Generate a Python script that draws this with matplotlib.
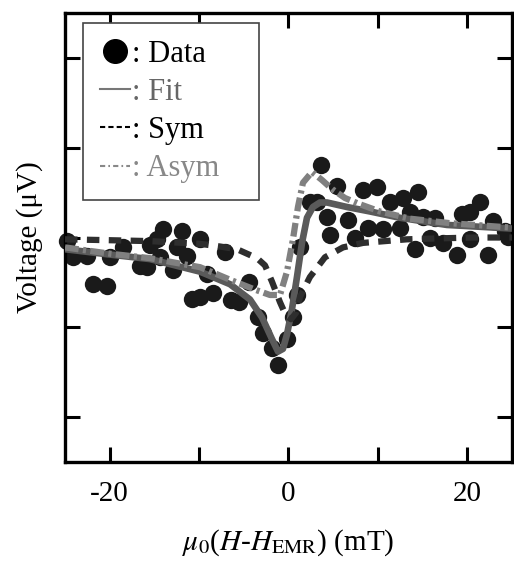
import matplotlib
matplotlib.use("Agg")
import matplotlib.pyplot as plt
from matplotlib.lines import Line2D
import numpy as np

plt.rcParams['font.family'] = ['Liberation Serif', 'DejaVu Sans']
plt.rcParams['mathtext.fontset'] = 'stix'

# measured points (field in mT, voltage in arbitrary units)
data_x = [-24.78, -24.11, -22.54, -21.87, -20.30, -19.97, -18.51, -16.61, -15.83, -15.49,
          -14.71, -14.04, -14.37, -12.92, -11.91, -11.35, -12.47, -9.90, -9.12, -10.79,
          -9.90, -8.45, -7.10, -6.43, -5.54, -4.42, -3.41, -2.85, -1.85, -1.17,
          -0.17, 0.50, 0.95, 1.29, 2.40, 3.19, 3.64, 4.64, 5.43, 4.31,
          6.66, 7.44, 8.33, 9.90, 8.89, 10.57, 11.35, 12.81, 14.49, 12.47,
          13.59, 15.04, 16.39, 14.15, 15.83, 17.28, 18.85, 19.41, 20.30, 20.30,
          21.42, 22.32, 22.87, 24.22, 24.55]
data_y = [-0.04, -0.22, -0.21, -0.52, -0.54, -0.22, -0.10, -0.32, -0.33, -0.08,
          -0.02, 0.09, -0.22, -0.36, 0.07, -0.21, -0.11, -0.02, -0.41, -0.69,
          -0.66, -0.62, -0.16, -0.70, -0.72, -0.49, -0.88, -1.06, -1.23, -1.42,
          -1.13, -0.88, -0.64, -0.10, 0.39, 0.39, 0.81, 0.03, 0.57, 0.23,
          0.19, 0.00, 0.53, 0.56, 0.11, 0.09, 0.40, 0.44, 0.51, 0.11,
          0.28, 0.23, 0.22, -0.13, 0.00, -0.06, -0.20, 0.26, 0.28, -0.02,
          0.40, -0.20, 0.18, 0.07, 0.01]

# fit curves
fit_x = [-25.0, -19.97, -15.49, -9.90, -6.54, -4.31, -2.96, -1.85, -1.17, -0.62,
         -0.17, 0.39, 0.95, 1.51, 2.07, 2.74, 3.52, 4.31, 6.54, 9.12, 12.47, 17.73, 25.0]
fit_y = [-0.13, -0.19, -0.24, -0.38, -0.52, -0.69, -0.89, -1.13, -1.27, -1.24,
         -1.08, -0.80, -0.44, -0.06, 0.22, 0.34, 0.39, 0.39, 0.34, 0.29, 0.22, 0.14, 0.10]

sym_x = [-25.0, -19.97, -15.49, -9.90, -7.66, -5.76, -3.52, -2.63, -1.85, -0.95,
         -0.28, 0.28, 0.84, 1.29, 2.40, 4.08, 6.10, 8.33, 10.79, 13.26, 16.61, 20.64, 25.0]
sym_y = [-0.02, -0.03, -0.04, -0.07, -0.10, -0.13, -0.23, -0.31, -0.49, -0.72,
         -0.87, -0.91, -0.84, -0.66, -0.44, -0.22, -0.11, -0.06, -0.04, -0.02, -0.01, 0.00, 0.00]

asym_x = [-25.0, -19.97, -15.49, -9.90, -6.54, -3.75, -2.07, -0.95, -0.17, 0.50,
          1.06, 1.62, 2.63, 3.75, 4.87, 6.32, 8.00, 10.23, 13.59, 18.06, 25.0]
asym_y = [-0.11, -0.18, -0.23, -0.33, -0.47, -0.58, -0.64, -0.64, -0.38, -0.02,
          0.34, 0.61, 0.73, 0.64, 0.54, 0.44, 0.37, 0.29, 0.21, 0.16, 0.11]

x_ticks = [-20, -10, 0, 10, 20]
x_ticklabels = ['-20', '', '0', '', '20']
y_ticks = [-2, -1, 0, 1, 2]

fig = plt.figure(figsize=(5.14, 5.66), dpi=100)
ax = fig.add_axes([0.1265, 0.1837, 0.8695, 0.7933])

ax.plot(data_x, data_y, 'o', color='#1a1a1a', markersize=12.5, markeredgewidth=0,
        clip_on=False, zorder=2)
ax.plot(fit_x, fit_y, '-', color='#5a5a5a', lw=4.8, solid_capstyle='butt', zorder=3)
ax.plot(sym_x, sym_y, color='#2e2e2e', lw=4.5, dashes=(2.0, 1.5), zorder=4)
ax.plot(asym_x, asym_y, color='#808080', lw=4.5, dashes=(2.2, 0.7, 0.5, 0.7), zorder=5)

ax.set_xlim(-25, 25)
ax.set_ylim(-2.5, 2.5)
ax.set_xticks(x_ticks)
ax.set_xticklabels(x_ticklabels)
ax.set_yticks(y_ticks)
ax.set_yticklabels([])
ax.tick_params(direction='in', length=11, width=2.2, top=True, right=True,
               labelsize=21, pad=14)
for s in ax.spines.values():
    s.set_linewidth(2.4)

ax.set_ylabel('Voltage (μV)', fontsize=21, labelpad=2)
ax.set_xlabel(r'$\mu_0$($H$-$H_{\rm EMR}$) (mT)', fontsize=21, labelpad=14)

handles = [
    Line2D([], [], marker='o', ls='none', color='black', markersize=17),
    Line2D([], [], color='#777777', lw=1.5),
    Line2D([], [], color='black', lw=1.5, dashes=(2.5, 1.5)),
    Line2D([], [], color='#888888', lw=1.5, dashes=(2.5, 1.5, 0.8, 1.5)),
]
labels = [': Data   ', ': Fit', ': Sym', ': Asym   ']
leg = ax.legend(handles, labels, loc='upper left', bbox_to_anchor=(0.04, 0.978),
                borderaxespad=0, fontsize=22, handlelength=1.0, handletextpad=0.05,
                labelspacing=0.3, fancybox=False, framealpha=1, edgecolor='#444444',
                borderpad=0.55)
leg.get_frame().set_linewidth(1.2)
for t, c in zip(leg.get_texts(), ['black', '#666666', 'black', '#888888']):
    t.set_color(c)

fig.savefig('out.png', dpi=100)
